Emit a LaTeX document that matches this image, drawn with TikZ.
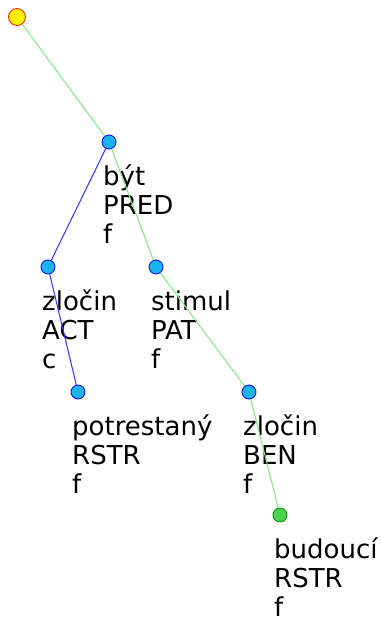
\documentclass[tikz,border=0pt]{standalone}
\usepackage{fontspec}
\setmainfont{DejaVu Sans}
\usetikzlibrary{positioning}
\definecolor{edgegreen}{RGB}{125,235,125}
\definecolor{edgeblue}{RGB}{50,50,255}
\tikzset{
    tnode/.style={
           circle,
           fill=cyan!90!white,
           draw=blue, line width=0.8pt,
           minimum size=14pt,
           inner sep=0pt,
           },
    rootnode/.style={tnode, fill=yellow, draw=red!80!orange, minimum size=17pt},
    leafnode/.style={tnode, fill=green!75!black!70!white, draw=green!55!black},
    lbl/.style={
           anchor=base west,
           align=left,
           inner sep=0pt,
           font=\fontsize{26}{29}\selectfont,
           },
    gedge/.style={draw=edgegreen, line width=1pt},
    bedge/.style={draw=edgeblue, line width=1pt},
}
\begin{document}
\begin{tikzpicture}[x=1pt,y=-1pt]
      \useasboundingbox (0,0) rectangle (380,618);
      \node[rootnode] (root)        at (17,17)   {};
      \node[tnode]    (byt)         at (109,142) {};
      \node[tnode]    (zlocin_act)  at (48,267)  {};
      \node[tnode]    (stimul)      at (156,267) {};
      \node[tnode]    (potrestany)  at (78,392)  {};
      \node[tnode]    (zlocin_ben)  at (249,392) {};
      \node[leafnode] (budouci)     at (280,515) {};
      % base anchor sits on the last line
      \node[lbl] (byt_l)        at ([shift={(-6,101)}]byt.center)        {být\\PRED\\f};
      \node[lbl] (zlocin_act_l) at ([shift={(-6,101)}]zlocin_act.center) {zločin\\ACT\\c};
      \node[lbl] (stimul_l)     at ([shift={(-5,101)}]stimul.center)     {stimul\\PAT\\f};
      \node[lbl] (potrestany_l) at ([shift={(-6,101)}]potrestany.center) {potrestaný\\RSTR\\f};
      \node[lbl] (zlocin_ben_l) at ([shift={(-6,101)}]zlocin_ben.center) {zločin\\BEN\\f};
      \node[lbl] (budouci_l)    at ([shift={(-6,101)}]budouci.center)    {budoucí\\RSTR\\f};
      \path
      (root) edge[gedge] (byt)
      (byt) edge[bedge] (zlocin_act)
      (byt) edge[gedge] (stimul)
      (zlocin_act) edge[bedge] (potrestany)
      (stimul) edge[gedge] (zlocin_ben)
      (zlocin_ben) edge[gedge] (budouci);
\end{tikzpicture}
\end{document}
